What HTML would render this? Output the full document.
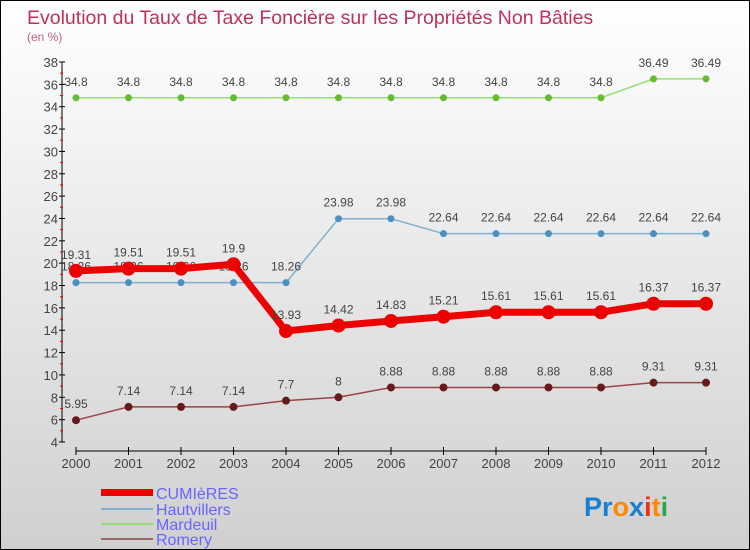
<!DOCTYPE html>
<html><head><meta charset="utf-8"><style>
body{margin:0}
#c{width:750px;height:550px;position:relative;box-sizing:border-box;border:1px solid #000;background:linear-gradient(#ffffff,#d0d0d0);font-family:"Liberation Sans",sans-serif;overflow:hidden}
</style></head><body>
<div id="c">
<svg id="s" width="750" height="550" style="position:absolute;left:0;top:0">
<text x="26" y="23" font-size="19.5" fill="#c0305a">Evolution du Taux de Taxe Foncière sur les Propriétés Non Bâties</text>
<text x="26" y="40" font-size="12" fill="#c06080">(en %)</text>
<g id="axes"></g><g id="series"></g>
<g>
<rect x="100" y="488" width="52" height="7" fill="#ee0000"/>
<text x="155" y="498" font-size="16" fill="#6666ff">CUMIèRES</text>
<rect x="100" y="507" width="52" height="2" fill="#7fb0d0"/>
<text x="155" y="514" font-size="16" fill="#6666ff">Hautvillers</text>
<rect x="100" y="522" width="52" height="2" fill="#99dd77"/>
<text x="155" y="529" font-size="16" fill="#6666ff">Mardeuil</text>
<rect x="100" y="537" width="52" height="2" fill="#996666"/>
<text x="155" y="544" font-size="16" fill="#6666ff">Romery</text>
</g>
<g font-size="27" font-weight="bold">
<text x="583" y="515"><tspan fill="#1a7fd0">Pr</tspan><tspan fill="#ff8800">o</tspan><tspan fill="#1a7fd0">x</tspan><tspan fill="#ee3311">i</tspan><tspan fill="#ff8800">t</tspan><tspan fill="#22aa44">i</tspan></text>
</g>
</svg>
</div>
<script>
const years=["2000","2001","2002","2003","2004","2005","2006","2007","2008","2009","2010","2011","2012"];
const cumieres=[19.31,19.51,19.51,19.9,13.93,14.42,14.83,15.21,15.61,15.61,15.61,16.37,16.37];
const hautvillers=[18.26,18.26,18.26,18.26,18.26,23.98,23.98,22.64,22.64,22.64,22.64,22.64,22.64];
const mardeuil=[34.8,34.8,34.8,34.8,34.8,34.8,34.8,34.8,34.8,34.8,34.8,36.49,36.49];
const romery=[5.95,7.14,7.14,7.14,7.7,8,8.88,8.88,8.88,8.88,8.88,9.31,9.31];
const yTicks=[4,6,8,10,12,14,16,18,20,22,24,26,28,30,32,34,36,38];
const NS="http://www.w3.org/2000/svg";
const X=i=>75+i*52.5, Y=v=>441-(v-4)*(380/34);
function mk(t,a,p){const e=document.createElementNS(NS,t);for(const k in a)e.setAttribute(k,a[k]);p.appendChild(e);return e;}
const ax=document.getElementById('axes');
let e=mk('line',{x1:61,y1:Y(38),x2:61,y2:Y(4),stroke:'#000'},ax);


e=mk('line',{x1:X(0),y1:450,x2:X(12),y2:450,stroke:'#000'},ax);


yTicks.forEach(v=>{
 mk('line',{x1:58,x2:64,y1:Y(v),y2:Y(v),stroke:'#000'},ax);
 if(v<38) mk('line',{x1:59,x2:62,y1:Y(v+1),y2:Y(v+1),stroke:'#e00'},ax);
 const t=mk('text',{x:57,y:Y(v)+5,'text-anchor':'end','font-size':13,fill:'#444'},ax);t.textContent=v;
 
 
});
years.forEach((y,i)=>{
 mk('line',{x1:X(i),x2:X(i),y1:446,y2:454,stroke:'#000'},ax);
 const t=mk('text',{x:X(i),y:467,'text-anchor':'middle','font-size':13,fill:'#444'},ax);t.textContent=y;
 
 
});
const sg=document.getElementById('series');
function series(name,vals,color,w,r,dot){
 const g=mk('g',{},sg);
 
 
 const p=mk('polyline',{points:vals.map((v,i)=>X(i)+','+Y(v)).join(' '),fill:'none',stroke:color,'stroke-width':w,'stroke-linejoin':'round'},g);
 
 
 vals.forEach((v,i)=>{
  const c=mk('circle',{cx:X(i),cy:Y(v),r:r,fill:dot},g);
  
  
  const t=mk('text',{x:X(i),y:Y(v)-12,'text-anchor':'middle','font-size':12,fill:'#444'},g);t.textContent=v;
  
  
 });
}
series('romery',romery,'#994444',1.5,4,'#661a1a');
series('mardeuil',mardeuil,'#99dd77',1.5,3.5,'#66bb33');
series('hautvillers',hautvillers,'#7fb0d0',1.5,3.5,'#4a90c0');
series('cumieres',cumieres,'#ee0000',7,7,'#ee0000');
</script>
</body></html>
